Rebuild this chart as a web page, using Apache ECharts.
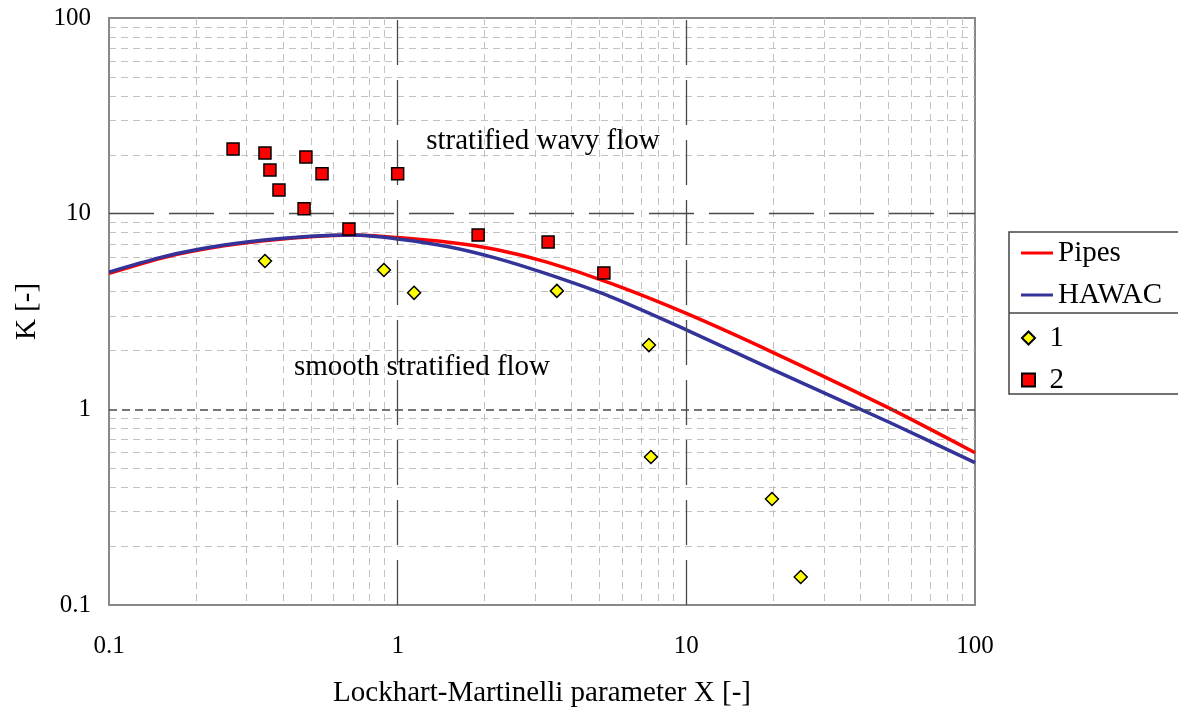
<!DOCTYPE html>
<html lang="en" style="height: 100%">
<head>
  <meta charset="UTF-8">
  <title>K vs Lockhart-Martinelli X</title>
</head>
<body style="height: 100%; margin: 0; background: #fff">
<div id="container" style="width: 1178px; height: 708px"></div>
<script type="text/javascript" src="https://cdn.jsdelivr.net/npm/echarts@6/dist/echarts.min.js"></script>
<script type="text/javascript">
  // curves
  var pipesX = [0.1, 0.15, 0.2, 0.3, 0.5, 0.7, 1, 1.5, 2.19, 3.29, 5.48, 10, 20, 50, 100];
  var pipesK = [4.95, 5.9, 6.48, 7.1, 7.62, 7.78, 7.55, 7.14, 6.56, 5.65, 4.4, 3.09, 1.95, 1.02, 0.6];
  var hawacX = [0.1, 0.15, 0.2, 0.3, 0.5, 0.7, 1, 1.5, 2.19, 3.29, 5.48, 10, 20, 50, 100];
  var hawacK = [5.03, 5.96, 6.54, 7.16, 7.66, 7.78, 7.43, 6.78, 5.93, 4.92, 3.76, 2.55, 1.59, 0.864, 0.534];

  // measured points
  var set1X = [0.347, 0.896, 1.14, 3.56, 7.42, 7.54, 19.8, 24.9];
  var set1K = [5.73, 5.15, 3.94, 4.03, 2.13, 0.571, 0.348, 0.139];
  var set2X = [0.269, 0.347, 0.361, 0.388, 0.481, 0.547, 0.474, 0.678, 1.0, 1.9, 3.32, 5.18];
  var set2K = [21.4, 20.4, 16.7, 13.2, 19.5, 16.0, 10.6, 8.36, 16.0, 7.78, 7.17, 4.98];

  var axisTicks = [0.1, 1, 10, 100];

  function pairs(xs, ys) {
    return xs.map(function (x, i) { return [x, ys[i]]; });
  }

  var serif = '"Liberation Serif", "Times New Roman", serif';
  var dom = document.getElementById('container');
  var myChart = echarts.init(dom, null, { renderer: 'canvas' });

  var longDash = { color: '#4a4a4a', width: 1.3, type: [45, 15] };
  var shortDash = { color: '#4a4a4a', width: 1.5, type: [8, 5] };
  var minorLine = { color: '#c2c2c2', width: 1, type: [7, 5] };

  var option = {
    animation: false,
    backgroundColor: '#fff',
    grid: {
      left: 109, right: 203, top: 18, bottom: 103,
      outerBoundsMode: 'none',
      containLabel: false,
      show: true, borderColor: '#888', borderWidth: 2
    },
    xAxis: {
      type: 'log', logBase: 10, min: 0.1, max: 100,
      name: 'Lockhart-Martinelli parameter X [-]',
      nameLocation: 'middle', nameGap: 74,
      nameTextStyle: { fontFamily: serif, fontSize: 29, color: '#000' },
      axisLine: { show: true, lineStyle: { color: '#888', width: 2 } },
      axisTick: { show: false },
      axisLabel: {
        fontFamily: serif, fontSize: 25, color: '#000', margin: 29,
        formatter: function (v) { return axisTicks.indexOf(v) >= 0 ? String(v) : ''; }
      },
      splitLine: { show: false },
      minorTick: { show: false, splitNumber: 9 },
      minorSplitLine: { show: true, lineStyle: minorLine }
    },
    yAxis: {
      type: 'log', logBase: 10, min: 0.1, max: 100,
      name: 'K [-]',
      nameLocation: 'middle', nameGap: 67,
      nameTextStyle: { fontFamily: serif, fontSize: 29, color: '#000' },
      axisLine: { show: true, lineStyle: { color: '#888', width: 2 } },
      axisTick: { show: false },
      axisLabel: {
        fontFamily: serif, fontSize: 25, color: '#000', margin: 18,
        formatter: function (v) { return axisTicks.indexOf(v) >= 0 ? String(v) : ''; }
      },
      splitLine: { show: false },
      minorTick: { show: false, splitNumber: 9 },
      minorSplitLine: { show: true, lineStyle: minorLine }
    },
    legend: [
      {
        orient: 'vertical', left: 1016, top: 233,
        itemWidth: 32, itemHeight: 3, itemGap: 12, icon: 'rect',
        textStyle: { fontFamily: serif, fontSize: 29, lineHeight: 30, color: '#000' },
        data: ['Pipes', 'HAWAC']
      },
      {
        orient: 'vertical', left: 1016, top: 318,
        itemWidth: 32, itemHeight: 13, itemGap: 12,
        symbolKeepAspect: true,
        textStyle: { fontFamily: serif, fontSize: 29, lineHeight: 30, color: '#000' },
        data: [
          { name: '1', icon: 'path://M0,-1L1,0L0,1L-1,0Z' },
          { name: '2', icon: 'path://M0,0L1,0L1,1L0,1Z' }
        ]
      }
    ],
    graphic: [
      {
        type: 'rect', z: -1,
        shape: { x: 1009, y: 232, width: 175, height: 162 },
        style: { fill: '#fff', stroke: '#444', lineWidth: 1.5 }
      },
      {
        type: 'line', z: 10,
        shape: { x1: 1009, y1: 313, x2: 1178, y2: 313 },
        style: { stroke: '#444', lineWidth: 1.5 }
      },
      {
        type: 'text', z: 10,
        style: { text: 'stratified wavy flow', x: 543, y: 141, align: 'center', verticalAlign: 'middle',
                 font: '29px ' + serif, fill: '#000' }
      },
      {
        type: 'text', z: 10,
        style: { text: 'smooth stratified flow', x: 422, y: 367, align: 'center', verticalAlign: 'middle',
                 font: '29px ' + serif, fill: '#000' }
      }
    ],
    series: [
      {
        name: 'grid',
        type: 'line',
        data: [],
        z: 1,
        markLine: {
          silent: true,
          symbol: 'none',
          label: { show: false },
          data: [
            { xAxis: 1, lineStyle: longDash },
            { xAxis: 10, lineStyle: longDash },
            { yAxis: 10, lineStyle: longDash },
            { yAxis: 1, lineStyle: shortDash }
          ]
        }
      },
      {
        name: 'Pipes',
        type: 'line',
        smooth: 0.3,
        showSymbol: false,
        z: 3,
        color: '#ff0000',
        lineStyle: { color: '#ff0000', width: 3.5 },
        data: pairs(pipesX, pipesK)
      },
      {
        name: 'HAWAC',
        type: 'line',
        smooth: 0.3,
        showSymbol: false,
        z: 4,
        color: '#333399',
        lineStyle: { color: '#333399', width: 3.5 },
        data: pairs(hawacX, hawacK)
      },
      {
        name: '1',
        type: 'scatter',
        symbol: 'diamond',
        symbolSize: 13,
        z: 5,
        itemStyle: { color: '#ffff00', borderColor: '#000', borderWidth: 1.5, opacity: 1 },
        data: pairs(set1X, set1K)
      },
      {
        name: '2',
        type: 'scatter',
        symbol: 'rect',
        symbolSize: 12,
        z: 5,
        itemStyle: { color: '#ff0000', borderColor: '#000', borderWidth: 1.5, opacity: 1 },
        data: pairs(set2X, set2K)
      }
    ]
  };

  myChart.setOption(option);
  window.addEventListener('resize', myChart.resize);
</script>
</body>
</html>
